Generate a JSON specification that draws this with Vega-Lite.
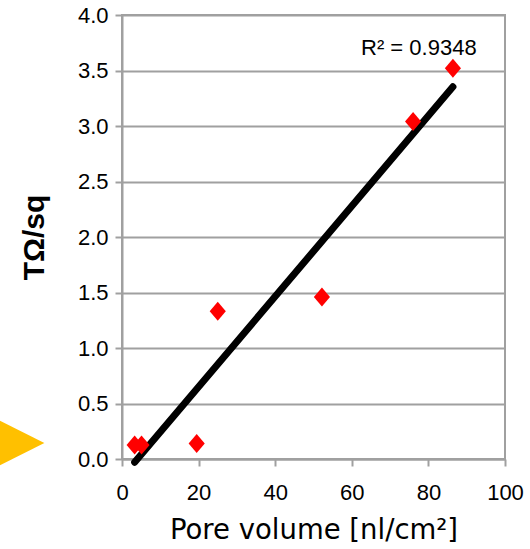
{
  "$schema": "https://vega.github.io/schema/vega-lite/v6.json",
  "autosize": {"type": "none"},
  "padding": {"left": 122, "top": 15, "right": 25, "bottom": 90},
  "width": 383,
  "height": 444,
  "background": "white",
  "config": {
    "font": "Liberation Sans",
    "view": {"stroke": "#a0a0a0", "strokeWidth": 2},
    "axis": {
      "domainColor": "#a0a0a0", "domainWidth": 2,
      "tickColor": "#a0a0a0", "tickWidth": 2, "tickSize": 7,
      "gridColor": "#a0a0a0", "gridWidth": 2,
      "labelFont": "Liberation Sans", "labelFontSize": 22, "labelColor": "black", "labelFlush": false,
      "titleColor": "black"
    }
  },
  "datasets": {
    "pts": [
      {"pv": 3.3, "r": 0.126},
      {"pv": 5.1, "r": 0.126},
      {"pv": 19.5, "r": 0.14},
      {"pv": 25.0, "r": 1.33},
      {"pv": 52.2, "r": 1.46},
      {"pv": 76.0, "r": 3.04},
      {"pv": 86.4, "r": 3.52}
    ],
    "trend": [
      {"pv": 3.3, "r": -0.029},
      {"pv": 86.4, "r": 3.353}
    ],
    "marker": [{"pv": -28.1, "r": 0.144}],
    "label": [{"pv": 77.5, "r": 3.64, "txt": "R² = 0.9348"}]
  },
  "layer": [
    {
      "data": {"name": "marker"},
      "mark": {"type": "point", "shape": "M-1,-1L1,0L-1,1Z", "filled": true, "color": "#FFC000", "opacity": 1, "size": 3600, "clip": false},
      "encoding": {
        "x": {"field": "pv", "type": "quantitative", "scale": {"domain": [0, 100], "nice": false, "zero": false},
          "axis": {"values": [0, 20, 40, 60, 80, 100], "grid": false, "labelPadding": 16, "title": "Pore volume [nl/cm²]", "titleFont": "DejaVu Sans", "titleFontSize": 27.5, "titleFontWeight": "normal", "titlePadding": 13}},
        "y": {"field": "r", "type": "quantitative", "scale": {"domain": [0, 4], "nice": false, "zero": false},
          "axis": {"values": [0, 0.5, 1, 1.5, 2, 2.5, 3, 3.5, 4], "format": ".1f", "grid": true, "labelPadding": 7, "title": "TΩ/sq", "titleFont": "Liberation Sans", "titleFontSize": 30, "titleFontWeight": "bold", "titlePadding": 28}}
      }
    },
    {
      "data": {"name": "trend"},
      "mark": {"type": "line", "color": "black", "strokeWidth": 7, "strokeCap": "round"},
      "encoding": {
        "x": {"field": "pv", "type": "quantitative"},
        "y": {"field": "r", "type": "quantitative"}
      }
    },
    {
      "data": {"name": "pts"},
      "mark": {"type": "point", "shape": "M0,-1L0.85,0L0,1L-0.85,0Z", "filled": true, "color": "#ff0000", "opacity": 1, "size": 361},
      "encoding": {
        "x": {"field": "pv", "type": "quantitative"},
        "y": {"field": "r", "type": "quantitative"}
      }
    },
    {
      "data": {"name": "label"},
      "mark": {"type": "text", "font": "Liberation Sans", "fontSize": 22, "color": "black", "align": "center", "baseline": "alphabetic"},
      "encoding": {
        "x": {"field": "pv", "type": "quantitative"},
        "y": {"field": "r", "type": "quantitative"},
        "text": {"field": "txt"}
      }
    }
  ]
}
